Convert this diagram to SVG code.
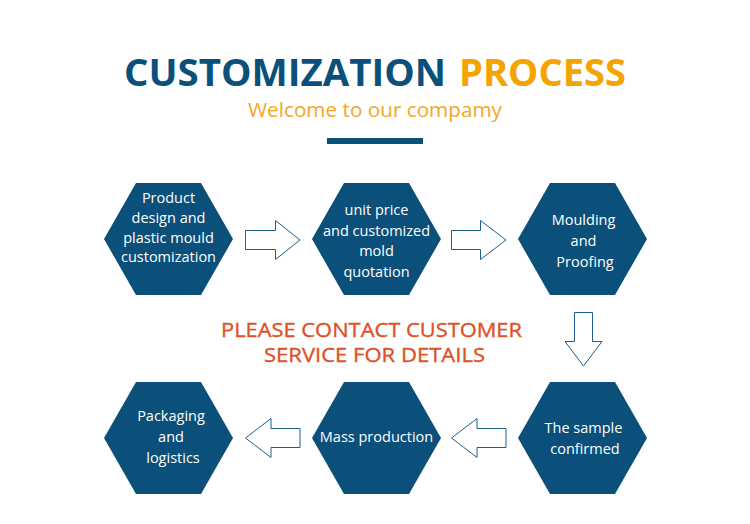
<svg xmlns="http://www.w3.org/2000/svg" width="750" height="524" viewBox="0 0 750 524">
<style>
.hex{fill:#0b4f7b;}
.lbl{font-family:"Open Sans","Noto Sans",sans-serif;font-size:14.5px;fill:#ffffff;text-anchor:middle;}
.arr{fill:#ffffff;stroke:#1d5f8a;stroke-width:1;}
.ttl{font-family:"Open Sans","Noto Sans",sans-serif;font-weight:bold;font-size:38px;}
</style>
<rect width="750" height="524" fill="#ffffff"/>
<g id="title">
<text class="ttl" x="124" y="86" fill="#0b4f7b" textLength="322" lengthAdjust="spacingAndGlyphs">CUSTOMIZATION</text>
<text class="ttl" x="459" y="86" fill="#f5a300" textLength="167" lengthAdjust="spacingAndGlyphs">PROCESS</text>
<text x="375" y="117" font-family="'Open Sans','Noto Sans',sans-serif" font-size="20" fill="#f5a623" text-anchor="middle" textLength="254" lengthAdjust="spacingAndGlyphs">Welcome to our compamy</text>
<rect x="327" y="138" width="96" height="6" fill="#0b4f7b"/>
</g>
<g id="notice" font-family="'Open Sans','Noto Sans',sans-serif" font-size="20" fill="#de5127" stroke="#de5127" stroke-width="0.35" text-anchor="middle">
<text x="371.5" y="337" textLength="301" lengthAdjust="spacingAndGlyphs">PLEASE CONTACT CUSTOMER</text>
<text x="374.5" y="362" textLength="221" lengthAdjust="spacingAndGlyphs">SERVICE FOR DETAILS</text>
</g>
<g id="node1">
<polygon class="hex" points="104,239 136,183 201,183 233,239 201,295 136,295"/>
<text class="lbl" x="168.5" y="203">Product</text>
<text class="lbl" x="168.5" y="223">design and</text>
<text class="lbl" x="168.5" y="243">plastic mould</text>
<text class="lbl" x="168.5" y="262">customization</text>
</g>
<g id="node2">
<polygon class="hex" points="312,239 344,183 409,183 441,239 409,295 344,295"/>
<text class="lbl" x="376.5" y="215">unit price</text>
<text class="lbl" x="376.5" y="236">and customized</text>
<text class="lbl" x="376.5" y="256">mold</text>
<text class="lbl" x="376.5" y="277">quotation</text>
</g>
<g id="node3">
<polygon class="hex" points="518,239 550,183 615,183 647,239 615,295 550,295"/>
<text class="lbl" x="583.5" y="225">Moulding</text>
<text class="lbl" x="583.5" y="246">and</text>
<text class="lbl" x="585" y="267">Proofing</text>
</g>
<g id="node4">
<polygon class="hex" points="104,438 136,382 201,382 233,438 201,494 136,494"/>
<text class="lbl" x="171" y="421">Packaging</text>
<text class="lbl" x="171" y="442">and</text>
<text class="lbl" x="173" y="463">logistics</text>
</g>
<g id="node5">
<polygon class="hex" points="312,438 344,382 409,382 441,438 409,494 344,494"/>
<text class="lbl" x="376.5" y="442">Mass production</text>
</g>
<g id="node6">
<polygon class="hex" points="518,438 550,382 615,382 647,438 615,494 550,494"/>
<text class="lbl" x="583.5" y="433">The sample</text>
<text class="lbl" x="585" y="454">confirmed</text>
</g>
<g id="connectors">
<polygon class="arr" points="245.5,230.5 275.5,230.5 275.5,220.5 300,240 275.5,259.5 275.5,249.5 245.5,249.5"/>
<polygon class="arr" points="451.5,230.5 480.5,230.5 480.5,220.5 506,240 480.5,259.5 480.5,249.5 451.5,249.5"/>
<polygon class="arr" points="574.5,312.5 592.5,312.5 592.5,341.5 602,341.5 583.5,366 565,341.5 574.5,341.5"/>
<polygon class="arr" points="300,428.5 271,428.5 271,418.5 245.5,438 271,457.5 271,447.5 300,447.5"/>
<polygon class="arr" points="506,428.5 477,428.5 477,418.5 451.5,438 477,457.5 477,447.5 506,447.5"/>
</g>
</svg>
